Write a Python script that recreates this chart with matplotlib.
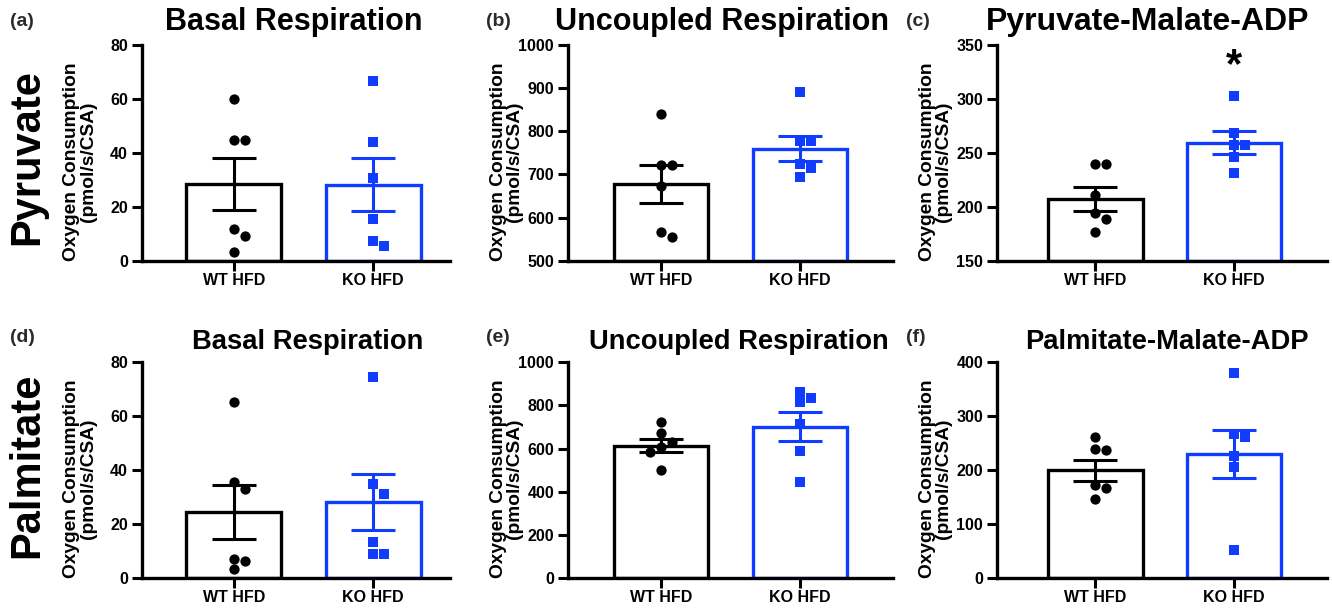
import matplotlib
matplotlib.use("Agg")
import matplotlib.pyplot as plt
import matplotlib.transforms as mtransforms
import numpy as np

plt.rcParams['font.family'] = ['Liberation Sans', 'DejaVu Sans']
plt.rcParams['font.weight'] = 'bold'

# --- data ---
groups = ['WT HFD', 'KO HFD']
titles = ['Basal Respiration', 'Uncoupled Respiration', 'Pyruvate-Malate-ADP',
          'Basal Respiration', 'Uncoupled Respiration', 'Palmitate-Malate-ADP']
tags = ['(a)', '(b)', '(c)', '(d)', '(e)', '(f)']
row_labels = ['Pyruvate', 'Palmitate']
ylabel = 'Oxygen Consumption\n(pmol/s/CSA)'

wt_pts = [
    [59.8, 44.7, 44.7, 11.6, 9.1, 3.3],
    [839, 722, 722, 674, 567, 555],
    [240, 240, 211, 194, 189, 177],
    [65.3, 35.5, 32.9, 7.2, 6.3, 3.2],
    [725, 671, 632, 606, 586, 501],
    [261.5, 240, 237, 172.5, 167.5, 146],
]
ko_pts = [
    [66.7, 43.9, 30.5, 15.3, 7.4, 5.4],
    [892, 777, 777, 723, 714, 693],
    [303, 268, 257, 257, 246, 231],
    [74.7, 34.7, 31.0, 13.3, 8.8, 8.8],
    [864, 833, 815, 713, 587, 444],
    [381, 267, 262, 227, 205, 51],
]
wt_mean = [28.4, 677, 207.2, 24.6, 614, 200]
wt_sem = [9.7, 44, 11.2, 10.0, 31, 19.5]
ko_mean = [28.1, 760, 259.4, 28.1, 702, 230]
ko_sem = [9.85, 30, 10.4, 10.3, 67, 44]
sig = ['', '', '*', '', '', '']

# axis ranges (min, max, step)
yranges = [(0, 80, 20), (500, 1000, 100), (150, 350, 50),
           (0, 80, 20), (0, 1000, 200), (0, 400, 100)]

BLUE = '#0f3cff'
colors = ['black', BLUE]
W, H = 1332, 609

# layout in pixels
cols = [(141.7, 450, -0.66, 1.55), (568, 893, -0.67, 1.67), (997, 1327, -0.71, 1.67)]
rows = [(45, 260.7), (362.3, 578)]
title_right = [423, 889, 1309]
title_base = [30, 349]
title_size = [[22, 22, 23], [19.7, 19.7, 19.7]]
tag_x = [10, 486, 906]
tag_y = [22, 338]

fig = plt.figure(figsize=(W / 100, H / 100), dpi=100)


def swarm(ax, x0, vals, diam):
    # spread overlapping points sideways (pixel space)
    ppu = ax.transData.transform((1, 0))[0] - ax.transData.transform((0, 0))[0]
    placed, xs = [], []
    for v in vals:
        yp = ax.transData.transform((0, v))[1]
        for k in [0, 1, -1, 2, -2, 3, -3]:
            xp = k * diam
            if all((xp - a) ** 2 + (yp - b) ** 2 >= (diam * 0.95) ** 2 for a, b in placed):
                break
        placed.append((xp, yp))
        xs.append(x0 + xp / ppu)
    return xs


for i in range(6):
    r, c = divmod(i, 3)
    x0, x1, xl, xr = cols[c]
    ytop, ybot = rows[r]
    ax = fig.add_axes([x0 / W, 1 - ybot / H, (x1 - x0) / W, (ybot - ytop) / H])
    lo, hi, st = yranges[i]
    ax.set_ylim(lo, hi)
    ax.set_xlim(xl, xr)
    ax.set_yticks(np.arange(lo, hi + st / 2, st))
    ax.set_xticks([0, 1])
    ax.set_xticklabels(groups)

    means = [wt_mean[i], ko_mean[i]]
    sems = [wt_sem[i], ko_sem[i]]
    pts = [wt_pts[i], ko_pts[i]]
    for g in range(2):
        ax.bar(g, means[g] - lo, bottom=lo, width=0.68, facecolor='white',
               edgecolor=colors[g], linewidth=2.4, zorder=2)
        ax.errorbar(g, means[g], yerr=sems[g], color=colors[g], capsize=16,
                    capthick=2.2, elinewidth=2.2, zorder=3)
        marker = 'o' if g == 0 else 's'
        ms = 7.4 if g == 0 else 6.8
        xs = swarm(ax, g, pts[g], 11)
        ax.plot(xs, pts[g], linestyle='none', marker=marker, markersize=ms,
                color=colors[g], markeredgewidth=0, zorder=4)

    if sig[i]:
        tr = mtransforms.blended_transform_factory(ax.transData, ax.transAxes)
        ax.text(1, 0.90, sig[i], transform=tr, ha='center', va='center',
                fontsize=30, fontweight='bold')

    for s in ['top', 'right']:
        ax.spines[s].set_visible(False)
    for s in ['left', 'bottom']:
        ax.spines[s].set_linewidth(2.4)
    ax.tick_params(axis='both', width=2.2, length=7, labelsize=11.5, pad=3)
    ax.tick_params(axis='x', pad=2)
    for lab in ax.get_xticklabels() + ax.get_yticklabels():
        lab.set_fontweight('bold')

    ax.set_ylabel(ylabel, fontsize=13.8, fontweight='bold', linespacing=0.95)
    ax.yaxis.set_label_coords(-45 / (x1 - x0), 0.46)

    fig.text(title_right[c] / W, 1 - title_base[r] / H, titles[i], ha='right',
             va='baseline', fontsize=title_size[r][c], fontweight='bold')
    fig.text(tag_x[c] / W, 1 - tag_y[r] / H, tags[i], ha='left', va='center',
             fontsize=14, fontweight='bold', color='#2b2b2b')

fig.text(27 / W, 1 - 157 / H, row_labels[0], rotation=90, ha='center', va='center',
         fontsize=30, fontweight='bold')
fig.text(27 / W, 1 - 465 / H, row_labels[1], rotation=90, ha='center', va='center',
         fontsize=30, fontweight='bold')

fig.savefig('out.png', dpi=100)
